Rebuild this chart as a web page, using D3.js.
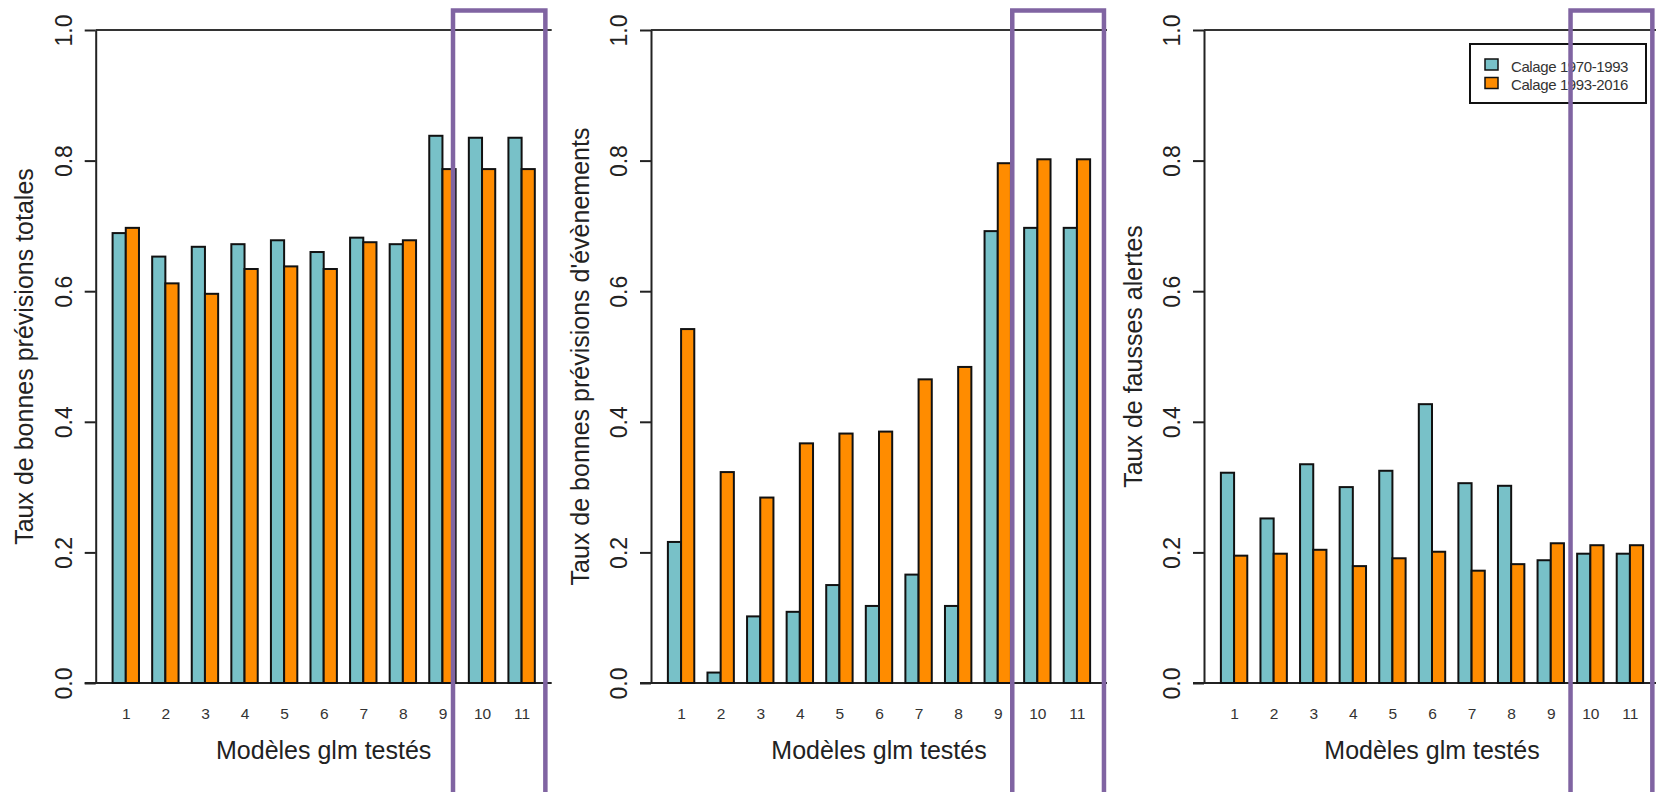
<!DOCTYPE html>
<html>
<head>
<meta charset="utf-8">
<script src="https://cdn.jsdelivr.net/npm/d3@7"></script>
<style>
    body { margin: 0; background: #fff; }
    svg { display: block; font-family: "Liberation Sans", Arial, sans-serif; }
</style>
</head>
<body>
<svg id="chart"></svg>
<script>
// models 1..11, two calibration periods
const models = ["1", "2", "3", "4", "5", "6", "7", "8", "9", "10", "11"];
const seriesNames = ["Calage 1970-1993", "Calage 1993-2016"];
const yTicks = [0, 0.2, 0.4, 0.6, 0.8, 1.0];

const totalesA = [0.689, 0.653, 0.668, 0.672, 0.678, 0.660, 0.682, 0.672, 0.838, 0.835, 0.835];
const totalesB = [0.697, 0.612, 0.596, 0.634, 0.638, 0.634, 0.675, 0.678, 0.787, 0.787, 0.787];
const evenementsA = [0.216, 0.016, 0.102, 0.109, 0.150, 0.118, 0.166, 0.118, 0.692, 0.697, 0.697];
const evenementsB = [0.542, 0.323, 0.284, 0.367, 0.382, 0.385, 0.465, 0.484, 0.796, 0.802, 0.802];
const alertesA = [0.322, 0.252, 0.335, 0.300, 0.325, 0.427, 0.306, 0.302, 0.188, 0.198, 0.198];
const alertesB = [0.195, 0.198, 0.204, 0.179, 0.191, 0.201, 0.172, 0.182, 0.214, 0.211, 0.211];

const yTitles = ["Taux de bonnes prévisions totales", "Taux de bonnes prévisions d'évènements", "Taux de fausses alertes"];
const xTitle = "Modèles glm testés";
// hand drawn highlight boxes (barplot units)
const highlights = [[26.8, 33.8], [27.1, 34.05], [27.5, 33.7]];

const colors = ["#78c1c8", "#ff8c00"];

const W = 1656, H = 792;
const svg = d3.select("#chart").attr("width", W).attr("height", H);

const panels = [
    {a: totalesA, b: totalesB, left: 95.7},
    {a: evenementsA, b: evenementsB, left: 651},
    {a: alertesA, b: alertesB, left: 1204}
];
const plotW = 456, plotTop = 30, plotBottom = 683;

// like R barplot(beside=TRUE): each bar 1 unit, 1 unit gap between groups
const n = models.length;
const xDomain = [1 - 0.04 * (3 * n - 1), 3 * n + 0.04 * (3 * n - 1)];
const y = d3.scaleLinear().domain([0, 1]).range([plotBottom, plotTop]);

panels.forEach((p, k) => {
    const x = d3.scaleLinear().domain(xDomain).range([p.left, p.left + plotW]);
    const g = svg.append("g");

    // frame lines top and bottom
    g.append("line")
        .attr("x1", p.left).attr("x2", x.range()[1])
        .attr("y1", y(1)).attr("y2", y(1))
        .attr("stroke", "#333").attr("stroke-width", 2);
    g.append("line")
        .attr("x1", p.left - 11).attr("x2", x.range()[1])
        .attr("y1", y(0)).attr("y2", y(0))
        .attr("stroke", "#222").attr("stroke-width", 2);

    // bars
    [p.a, p.b].forEach((vals, s) => {
        g.selectAll(null)
            .data(vals)
            .enter().append("rect")
            .attr("x", (d, i) => x(3 * i + 1 + s))
            .attr("width", x(2) - x(1))
            .attr("y", d => y(d))
            .attr("height", d => y(0) - y(d))
            .attr("fill", colors[s])
            .attr("stroke", "#111")
            .attr("stroke-width", 2);
    });

    // y axis
    const yAxis = d3.axisLeft(y).tickValues(yTicks).tickFormat(d3.format(".1f"))
        .tickSize(11).tickSizeOuter(0);
    const ya = g.append("g")
        .attr("transform", `translate(${p.left},0)`)
        .call(yAxis);
    ya.selectAll("path, line").attr("stroke", "#222").attr("stroke-width", 2);
    ya.selectAll("text")
        .attr("x", null).attr("dy", null)
        .attr("transform", "translate(-32,0) rotate(-90)")
        .attr("text-anchor", "middle")
        .attr("dy", "0.35em")
        .attr("font-size", 23)
        .attr("fill", "#222");

    // x axis (labels only)
    const xAxis = d3.axisBottom(x)
        .tickValues(models.map((m, i) => 3 * i + 2))
        .tickFormat((d, i) => models[i])
        .tickSize(0);
    const xa = g.append("g")
        .attr("transform", `translate(0,${y(0)})`)
        .call(xAxis);
    xa.select(".domain").remove();
    xa.selectAll("text")
        .attr("y", 31).attr("dy", "0.35em")
        .attr("font-size", 15.5)
        .attr("fill", "#333");

    // titles
    g.append("text")
        .attr("transform", `translate(${p.left - 71},${(plotTop + plotBottom) / 2}) rotate(-90)`)
        .attr("text-anchor", "middle")
        .attr("dy", "0.35em")
        .attr("font-size", 25)
        .attr("fill", "#222")
        .text(yTitles[k]);
    g.append("text")
        .attr("x", (p.left + x.range()[1]) / 2)
        .attr("y", 750)
        .attr("dy", "0.35em")
        .attr("text-anchor", "middle")
        .attr("font-size", 25)
        .attr("fill", "#222")
        .text(xTitle);

    // legend on last panel
    if (k === 2) {
        const lw = 176, lh = 59;
        const lx = x.range()[1] - 14 - lw, ly = y(1) + 14;
        const lg = g.append("g").attr("transform", `translate(${lx},${ly})`);
        lg.append("rect")
            .attr("width", lw).attr("height", lh)
            .attr("fill", "#fff").attr("stroke", "#111").attr("stroke-width", 2);
        seriesNames.forEach((name, s) => {
            lg.append("rect")
                .attr("x", 15).attr("y", 15 + s * 18.5)
                .attr("width", 13).attr("height", 11)
                .attr("fill", colors[s]).attr("stroke", "#111").attr("stroke-width", 1.5);
            lg.append("text")
                .attr("x", 41).attr("y", 22.5 + s * 18.5)
                .attr("dy", "0.35em")
                .attr("font-size", 15)
                .attr("letter-spacing", -0.4)
                .attr("fill", "#333")
                .text(name);
        });
    }

    // purple highlight box
    const h = highlights[k];
    g.append("path")
        .attr("d", `M${x(h[0])},${H + 10}V${y(1.03)}H${x(h[1])}V${H + 10}`)
        .attr("fill", "none")
        .attr("stroke", "#8064a2")
        .attr("stroke-width", 4.5);
});
</script>
</body>
</html>
